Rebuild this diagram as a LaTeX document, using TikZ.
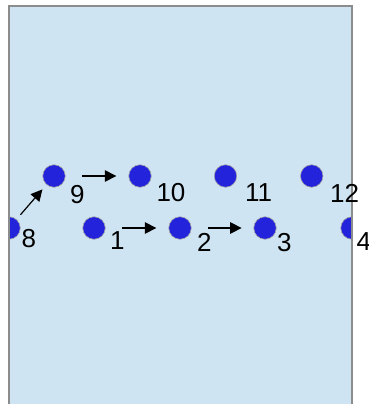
\documentclass[tikz,border=0pt]{standalone}
\usepackage{fontspec}
\setmainfont{Liberation Sans}
\usetikzlibrary{calc,arrows.meta}
\definecolor{bgblue}{RGB}{207,228,242}
\definecolor{dotblue}{RGB}{35,35,220}
\definecolor{framegray}{RGB}{140,140,140}
\begin{document}
\begin{tikzpicture}[x=1pt,y=-1pt,
  dot/.style={circle,fill=dotblue,draw=gray!70,line width=0.6pt,minimum size=22.5pt,inner sep=0pt},
  lbl/.style={anchor=base west,inner sep=0pt,font=\fontsize{26}{31}\selectfont},
  arr/.style={-{Triangle[length=11.5pt,width=11.5pt]},line width=1.2pt,black}]
\useasboundingbox (0,0) rectangle (369,404);
\fill[bgblue] (9,6) rectangle (351.7,420);
\begin{scope}
\clip (9,6) rectangle (351.7,420);
\node[dot] (n8) at (9,228) {};
\node[dot] (n1) at (94,228) {};
\node[dot] (n2) at (180,228) {};
\node[dot] (n3) at (265,228) {};
\node[dot] (n4) at (352,228) {};
\node[dot] (n9) at (54,176) {};
\node[dot] (n10) at (140,176) {};
\node[dot] (n11) at (225.5,176) {};
\node[dot] (n12) at (311.7,176) {};
\end{scope}
\draw[framegray,line width=2pt] (9,420) -- (9,6) -- (351.7,6) -- (351.7,420);
\node[lbl] (l8) at ($(n8)+(12.5,19.5)$) {8};
\node[lbl] (l1) at ($(n1)+(16,21.5)$) {1};
\node[lbl] (l2) at ($(n2)+(16.8,23.5)$) {2};
\node[lbl] (l3) at ($(n3)+(12,23.5)$) {3};
\node[lbl] (l4) at ($(n4)+(4.5,22)$) {4};
\node[lbl] (l9) at ($(n9)+(16,27)$) {9};
\node[lbl] (l10) at ($(n10)+(16.3,25.7)$) {10};
\node[lbl] (l11) at ($(n11)+(19.5,25.7)$) {11};
\node[lbl] (l12) at ($(n12)+(18.3,26.5)$) {12};
\draw[arr] ($(n8)!0.255!(n9)$) -- ($(n8)!0.743!(n9)$);
\draw[arr] ($(n9)!0.33!(n10)$) -- ($(n9)!0.725!(n10)$);
\draw[arr] ($(n1)!0.33!(n2)$) -- ($(n1)!0.725!(n2)$);
\draw[arr] ($(n2)!0.33!(n3)$) -- ($(n2)!0.725!(n3)$);
\end{tikzpicture}
\end{document}
